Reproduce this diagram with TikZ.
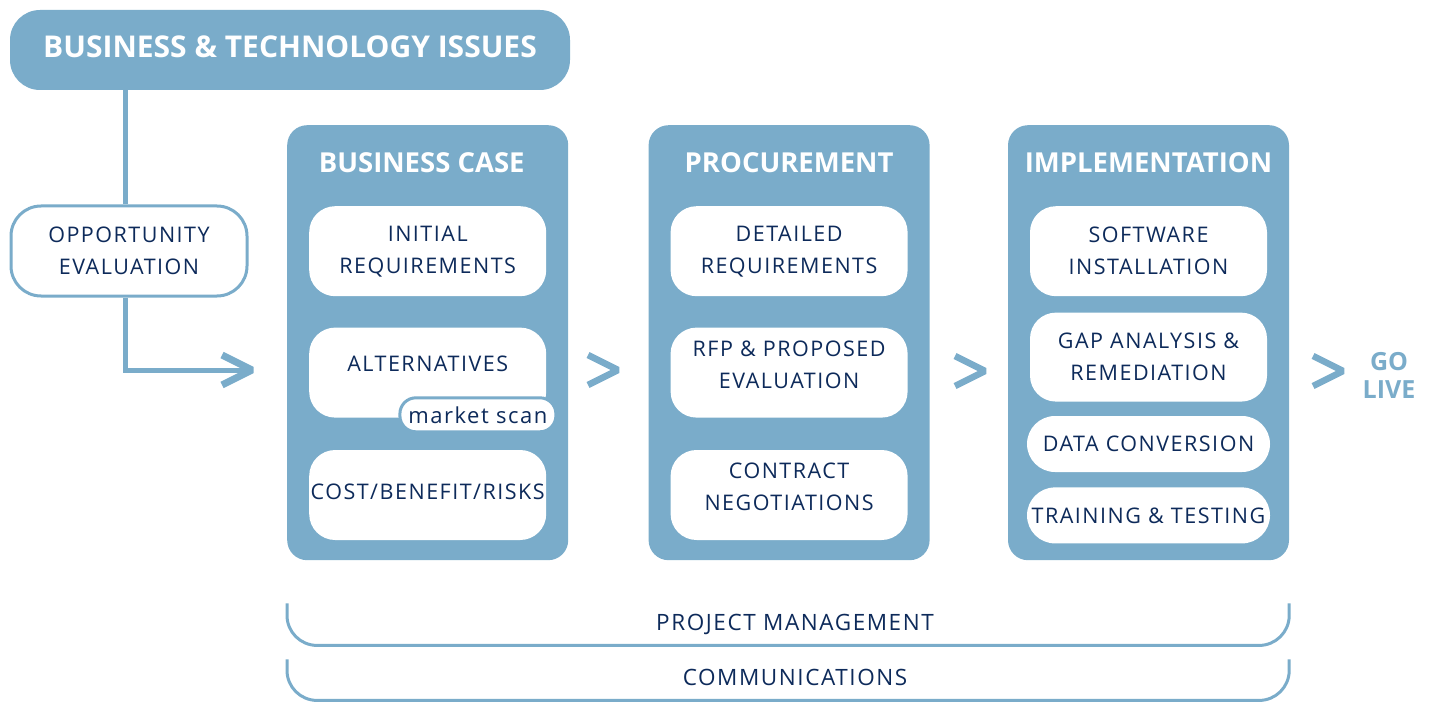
\documentclass[tikz,border=0pt]{standalone}
\usepackage{fontspec}
\setmainfont{Open Sans}
\newfontfamily\spaced[LetterSpace=7]{Open Sans}
\usetikzlibrary{positioning}
\definecolor{steel}{RGB}{122,172,202}
\definecolor{navy}{RGB}{13,42,90}
\newcommand{\itemfont}{\spaced\fontsize{21.5}{32}\selectfont}
\newcommand{\headfont}{\bfseries\fontsize{27.5}{30}\selectfont}

\begin{document}
\begin{tikzpicture}[x=1pt,y=-1pt,
    phase/.style={fill=steel,rounded corners=20pt,minimum width=281pt,minimum height=435pt,inner sep=0pt},
    head/.style={text=white,font=\headfont,inner sep=0pt},
    item/.style={fill=white,rounded corners=26pt,minimum width=237pt,minimum height=90pt,inner sep=0pt,align=center,text=navy,font=\itemfont},
    small/.style={item,rounded corners=28pt,minimum width=243pt,minimum height=56pt},
    tag/.style={draw=steel,line width=3pt,fill=white,rounded corners=16pt,minimum width=156pt,minimum height=34pt,inner sep=0pt,text=navy,font=\spaced\fontsize{22}{26}\selectfont},
    link/.style={draw=steel,line width=5pt},
    chev/.style={draw=steel,line width=6.5pt,line join=bevel},
    bracket/.style={draw=steel,line width=3pt,rounded corners=30pt},
    note/.style={text=navy,font=\spaced\fontsize{22.5}{26}\selectfont}]
  \useasboundingbox (0,0) rectangle (1431,703);

  \node (top) [fill=steel,rounded corners=30pt,minimum width=560pt,minimum height=80pt,text depth=6pt,text=white,font=\bfseries\fontsize{30}{34}\selectfont] at (290,50) {BUSINESS \& TECHNOLOGY ISSUES};
  \node (opp) [draw=steel,line width=3pt,fill=white,rounded corners=30pt,minimum width=236pt,minimum height=90pt,align=center,text=navy,font=\itemfont] at (129,251) {OPPORTUNITY\\EVALUATION};

  \node (bc) [phase,anchor=north west] at (287,125) {};
  \node (pr) [phase,right=80pt of bc] {};
  \node (im) [phase,right=78pt of pr] {};

  \node [head] at ([shift={(-6pt,-38pt)}]bc.north) {BUSINESS CASE};
  \node (ir) [item,below=81pt of bc.north] {INITIAL\\REQUIREMENTS};
  \node (alt) [item,below=31pt of ir,text depth=18pt] {ALTERNATIVES};
  \node (cb) [item,below=32pt of alt,text depth=6pt] {COST/BENEFIT/RISKS};
  \node (ms) [tag,anchor=east] at ([shift={(11pt,3pt)}]alt.south east) {market scan};

  \node [head] at ([yshift=-38pt]pr.north) {PROCUREMENT};
  \node (dr) [item,below=81pt of pr.north] {DETAILED\\REQUIREMENTS};
  \node (rfp) [item,below=31pt of dr,text depth=16pt] {RFP \& PROPOSED\\EVALUATION};
  \node (cn) [item,below=32pt of rfp,text depth=16pt] {CONTRACT\\NEGOTIATIONS};

  \node [head] at ([yshift=-38pt]im.north) {IMPLEMENTATION};
  \node (si) [item,below=81pt of im.north] {SOFTWARE\\INSTALLATION};
  \node (ga) [item,minimum height=89pt,below=16pt of si] {GAP ANALYSIS \&\\REMEDIATION};
  \node (dc) [small,below=14pt of ga] {DATA CONVERSION};
  \node (tt) [small,below=15pt of dc] {TRAINING \& TESTING};

  \coordinate (a0) at (252,370);
  \coordinate (g1) at (618,370);
  \coordinate (g2) at (985,371);
  \coordinate (g3) at (1343,371);

  \draw[link] (top.south -| opp.north) ++(-4pt,0) -- ([xshift=-4pt]opp.north);
  \draw[link] ([xshift=-4pt]opp.south) |- ([xshift=-4pt]a0);
  \draw[chev,line width=7pt] (a0) ++(-30,-15) -- (a0) -- ++(-30,15);
  \draw[chev] (g1) ++(-30,-15) -- (g1) -- ++(-30,15);
  \draw[chev] (g2) ++(-30,-15) -- (g2) -- ++(-30,15);
  \draw[chev] (g3) ++(-30,-15) -- (g3) -- ++(-30,15);

  \node (go) [text=steel,font=\bfseries\fontsize{25}{28}\selectfont,align=center] at (1389,375) {GO\\LIVE};

  \draw[bracket] ([yshift=-43pt]bc.south west) -- ++(0,42) -| ([yshift=-43pt]im.south east);
  \draw[bracket] ([yshift=-99pt]bc.south west) -- ++(0,41) -| ([yshift=-99pt]im.south east);
  \node (pm) [note] at (795,624) {PROJECT MANAGEMENT};
  \node (cm) [note] at (795,677) {COMMUNICATIONS};
\end{tikzpicture}
\end{document}
